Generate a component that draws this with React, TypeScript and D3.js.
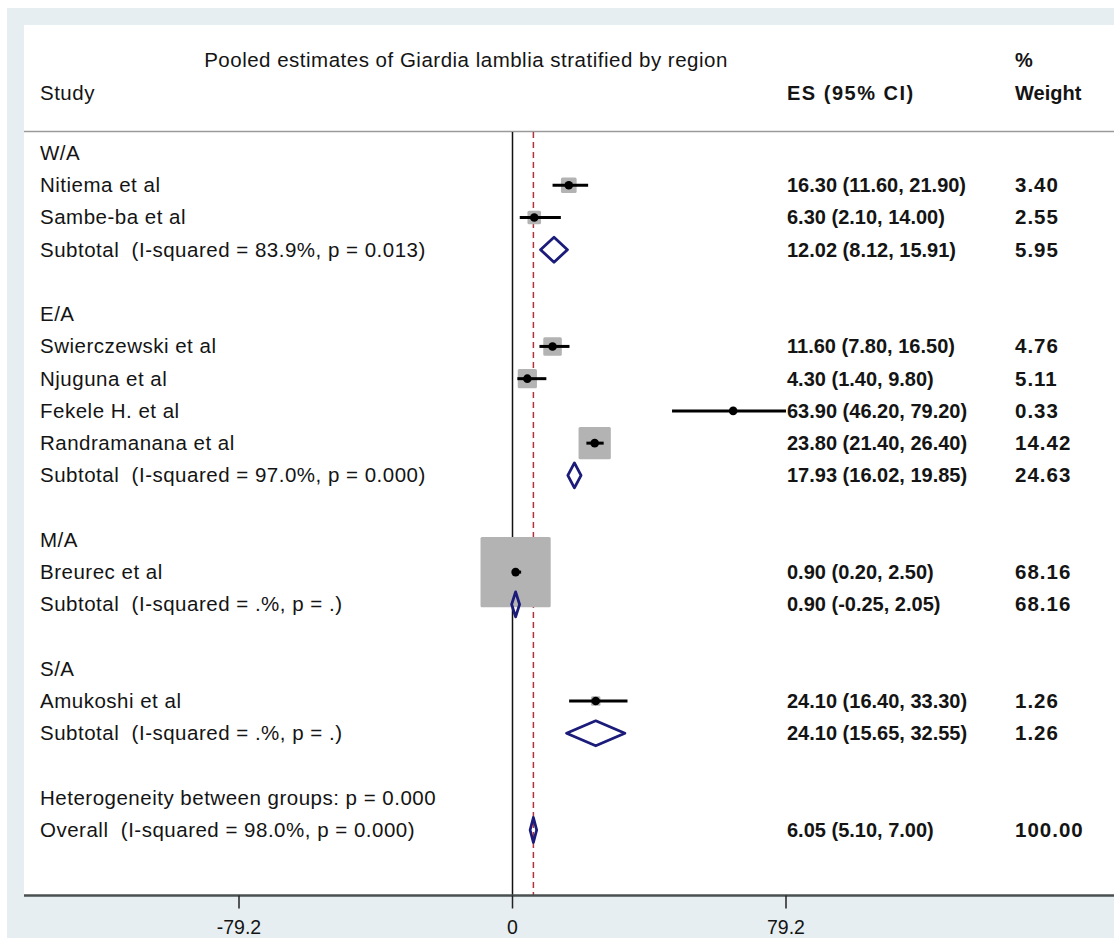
import React from "react";
import * as d3 from "d3";

// Forest plot: pooled prevalence of Giardia lamblia, stratified by region
const title = "Pooled estimates of Giardia lamblia stratified by region";

const groups = ["W/A", "E/A", "M/A", "S/A"];

const studies = [
  "Nitiema et al",
  "Sambe-ba et al",
  "Swierczewski et al",
  "Njuguna et al",
  "Fekele H. et al",
  "Randramanana et al",
  "Breurec et al",
  "Amukoshi et al",
];
const studyGroup = [0, 0, 1, 1, 1, 1, 2, 3];
const studyES = [16.3, 6.3, 11.6, 4.3, 63.9, 23.8, 0.9, 24.1];
const studyLo = [11.6, 2.1, 7.8, 1.4, 46.2, 21.4, 0.2, 16.4];
const studyHi = [21.9, 14.0, 16.5, 9.8, 79.2, 26.4, 2.5, 33.3];
const studyWeight = [3.4, 2.55, 4.76, 5.11, 0.33, 14.42, 68.16, 1.26];

const subtotalLabels = [
  "Subtotal  (I-squared = 83.9%, p = 0.013)",
  "Subtotal  (I-squared = 97.0%, p = 0.000)",
  "Subtotal  (I-squared = .%, p = .)",
  "Subtotal  (I-squared = .%, p = .)",
];
const subES = [12.02, 17.93, 0.9, 24.1];
const subLo = [8.12, 16.02, -0.25, 15.65];
const subHi = [15.91, 19.85, 2.05, 32.55];
const subWeight = [5.95, 24.63, 68.16, 1.26];

const heterogeneityLabel = "Heterogeneity between groups: p = 0.000";
const overallLabel = "Overall  (I-squared = 98.0%, p = 0.000)";
const overallES = 6.05;
const overallLo = 5.1;
const overallHi = 7.0;
const overallWeight = 100.0;

const xTicks = [-79.2, 0, 79.2];

type Row =
  | { kind: "group"; label: string }
  | { kind: "study"; label: string; es: number; lo: number; hi: number; w: number }
  | { kind: "diamond"; label: string; es: number; lo: number; hi: number; w: number }
  | { kind: "text"; label: string }
  | { kind: "blank" };

function buildRows(): Row[] {
  const rows: Row[] = [];
  groups.forEach((g, gi) => {
    rows.push({ kind: "group", label: g });
    studies.forEach((s, si) => {
      if (studyGroup[si] !== gi) return;
      rows.push({
        kind: "study",
        label: s,
        es: studyES[si],
        lo: studyLo[si],
        hi: studyHi[si],
        w: studyWeight[si],
      });
    });
    rows.push({
      kind: "diamond",
      label: subtotalLabels[gi],
      es: subES[gi],
      lo: subLo[gi],
      hi: subHi[gi],
      w: subWeight[gi],
    });
    rows.push({ kind: "blank" });
  });
  rows.push({ kind: "text", label: heterogeneityLabel });
  rows.push({
    kind: "diamond",
    label: overallLabel,
    es: overallES,
    lo: overallLo,
    hi: overallHi,
    w: overallWeight,
  });
  return rows;
}

const W = 1114;
const H = 938;
const FONT = "'Liberation Sans', Arial, Helvetica, sans-serif";
const TEXT = "#141414";

const f2 = (v: number) => v.toFixed(2);

export default function App() {
  const rows = buildRows();

  const x = d3.scaleLinear().domain([-79.2, 79.2]).range([239, 786]);
  const y = d3
    .scaleLinear()
    .domain([0, rows.length - 1])
    .range([153, 830]);

  const panelLeft = 24;
  const panelTop = 25;
  const axisY = 895.5;
  const refTop = 132;
  const textX = 40;
  const esX = 787;
  const wX = 1015;
  const boxK = 8.5;
  const dh = 12.5;

  const labelStyle = { whiteSpace: "pre" as const, letterSpacing: "0.5px" };

  return (
    <svg
      width={W}
      height={H}
      viewBox={`0 0 ${W} ${H}`}
      style={{ position: "absolute", left: 0, top: 0, display: "block" }}
      fontFamily={FONT}
    >
      <rect x={0} y={0} width={W} height={H} fill="#ffffff" />
      <rect x={7} y={8} width={W - 7} height={H - 8} fill="#e6eef1" />
      <rect x={panelLeft} y={panelTop} width={W - panelLeft} height={axisY - panelTop} fill="#ffffff" />

      {/* header */}
      <g fill={TEXT}>
        <text x={466} y={67} textAnchor="middle" fontSize={20.5} style={labelStyle}>{title}</text>
        <text x={wX} y={67} fontSize={20} fontWeight="bold">%</text>
        <text x={textX} y={100} fontSize={20.5} style={labelStyle}>Study</text>
        <text x={esX} y={100} fontSize={20} fontWeight="bold" style={{ letterSpacing: "1.5px" }}>ES (95% CI)</text>
        <text x={wX} y={100} fontSize={20} fontWeight="bold">Weight</text>
      </g>
      <line x1={panelLeft} x2={W} y1={131.5} y2={131.5} stroke="#9a9a9a" strokeWidth={1.5} />

      {/* null line and overall estimate line */}
      <line x1={x(0)} x2={x(0)} y1={refTop} y2={axisY} stroke="#111" strokeWidth={1.5} />
      <line
        x1={x(overallES)}
        x2={x(overallES)}
        y1={refTop}
        y2={axisY}
        stroke="#b0343c"
        strokeWidth={1.5}
        strokeDasharray="6 4"
      />

      {/* study weight boxes */}
      {rows.map((r, i) =>
        r.kind === "study" ? (
          <rect
            key={`b${i}`}
            x={x(r.es) - (boxK * Math.sqrt(r.w)) / 2}
            y={y(i) - (boxK * Math.sqrt(r.w)) / 2}
            width={boxK * Math.sqrt(r.w)}
            height={boxK * Math.sqrt(r.w)}
            fill="#b3b3b3"
            rx={1.5}
          />
        ) : null
      )}

      {/* confidence intervals and point estimates */}
      {rows.map((r, i) =>
        r.kind === "study" ? (
          <g key={`c${i}`}>
            <line x1={x(r.lo)} x2={x(r.hi)} y1={y(i)} y2={y(i)} stroke="#000" strokeWidth={3} />
            <circle cx={x(r.es)} cy={y(i)} r={4.3} fill="#000" />
          </g>
        ) : null
      )}

      {/* pooled diamonds */}
      {rows.map((r, i) =>
        r.kind === "diamond" ? (
          <path
            key={`d${i}`}
            d={`M${x(r.lo)},${y(i)}L${x(r.es)},${y(i) - dh}L${x(r.hi)},${y(i)}L${x(r.es)},${y(i) + dh}Z`}
            fill="none"
            stroke="#1b1b7a"
            strokeWidth={2.8}
            strokeLinejoin="round"
          />
        ) : null
      )}

      {/* row labels and values */}
      <g fill={TEXT}>
        {rows.map((r, i) => {
          if (r.kind === "blank") return null;
          const yy = y(i) + 7;
          return (
            <g key={`t${i}`}>
              <text x={textX} y={yy} fontSize={20.5} style={labelStyle}>{r.label}</text>
              {r.kind === "study" || r.kind === "diamond" ? (
                <>
                  <text x={esX} y={yy} fontSize={20} fontWeight="bold">
                    {`${f2(r.es)} (${f2(r.lo)}, ${f2(r.hi)})`}
                  </text>
                  <text x={wX} y={yy} fontSize={20.5} fontWeight="bold" style={{ letterSpacing: "1px" }}>
                    {f2(r.w)}
                  </text>
                </>
              ) : null}
            </g>
          );
        })}
      </g>

      {/* x axis */}
      <line x1={panelLeft} x2={W} y1={axisY} y2={axisY} stroke="#4a4f4f" strokeWidth={2.5} />
      {xTicks.map((t) => (
        <g key={t}>
          <line x1={x(t)} x2={x(t)} y1={axisY} y2={axisY + 13} stroke="#222" strokeWidth={1.5} />
          <text x={x(t)} y={934} textAnchor="middle" fontSize={19.5} fill={TEXT}>
            {t === 0 ? "0" : String(t)}
          </text>
        </g>
      ))}
    </svg>
  );
}
